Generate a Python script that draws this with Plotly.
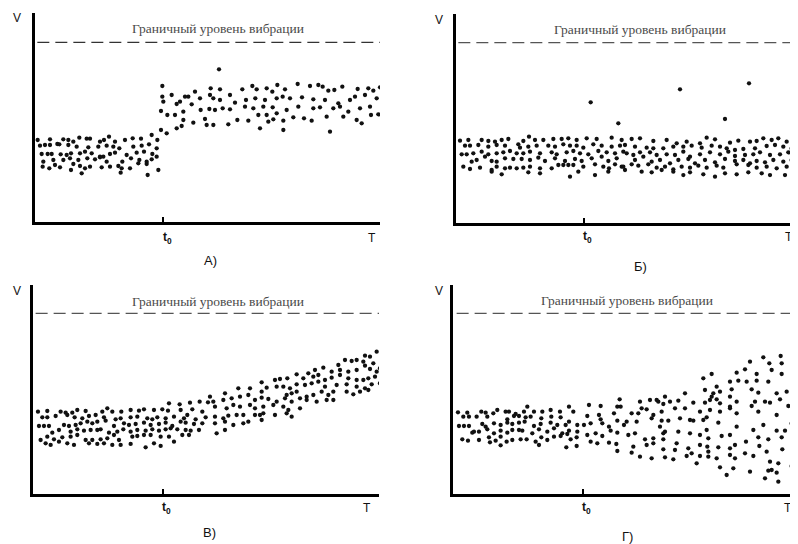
import plotly.graph_objects as go

# ---------------- data (t, V), arbitrary units ----------------
TITLE = "Граничный уровень вибрации"
PANEL_LABELS = ["А)", "Б)", "В)", "Г)"]

A_points = [
    (13,280),(50,282),(72,268),(90,282),(105,280),(120,275),(138,287),(160,284),(170,284),(200,275),(212,280),(227,290),(245,275),(275,280),(298,285),(323,284),(355,295),(372,280),
    (20,263),(35,265),(50,265),(78,267),(105,265),(130,260),(165,258),(195,260),(220,263),(240,260),(258,255),(300,260),(325,263),(347,267),(370,255),
    (25,238),(43,238),(55,238),(82,237),(100,235),(113,240),(140,240),(155,245),(175,240),(200,230),(210,230),(230,238),(245,242),(280,235),(310,242),(332,245),(357,238),(370,230),
    (30,215),(60,220),(90,220),(110,225),(135,220),(162,225),(185,222),(200,228),(220,215),(267,215),(293,225),(318,220),(340,215),(355,222),
    (28,200),(48,195),(65,205),(80,198),(113,190),(120,208),(140,202),(155,195),(170,200),(205,198),(230,200),(255,202),(265,195),(290,195),(315,210),(340,208),(375,190),
    (145,180),(262,182),(343,175),
    (557,492),
    (387,442),(415,415),(387,410),(455,410),(485,425),(532,435),(560,432),(590,415),(627,432),(657,442),(670,432),(700,435),(717,425),(732,445),(755,432),(793,448),(830,442),(855,445),(868,440),(885,428),(903,430),(927,440),(973,433),(1005,435),(1020,428),(1040,438),
    (440,395),(465,410),(500,405),(530,415),(540,405),(560,400),(605,392),(638,400),(666,405),(695,400),(730,405),(748,410),(770,405),(806,408),(840,402),(875,400),(915,390),(950,400),(965,410),(995,415),(1030,405),
    (383,367),(390,395),(402,355),(430,388),(425,355),(450,365),(475,387),(502,370),(528,373),(545,370),(568,375),(590,372),(635,380),(660,375),(690,380),(718,378),(730,360),(760,370),(795,380),(840,375),(860,378),(900,375),(920,380),(945,365),(980,375),(1010,380),(1035,357),
    (450,340),(480,332),(515,343),(520,325),(540,325),(585,327),(612,340),(645,338),(675,355),(700,355),(720,342),(705,335),(750,338),(780,348),(812,345),(835,338),(880,350),(930,350),(970,340),(985,330),(1013,355),
    (383,310),(400,300),(430,315),(445,322),(680,315),(750,310),(890,305),
]

B_points = [
    (412,393),(495,330),(680,432),(815,343),(887,450),(1022,400),
    (20,278),(45,280),(85,280),(105,277),(125,275),(145,280),(165,283),(210,277),(227,290),(245,280),(270,280),(300,283),(325,283),(345,285),(370,280),(400,285),(430,283),(475,287),(505,280),
    (35,263),(50,263),(75,265),(105,260),(130,265),(155,263),(195,267),(200,257),(225,260),(250,263),(285,263),(305,260),(330,267),(350,263),(370,263),(390,257),(420,267),(445,263),(475,260),(500,263),
    (25,237),(40,237),(60,240),(85,245),(105,237),(130,240),(150,243),(170,247),(190,240),(210,240),(230,245),(260,240),(295,243),(310,237),(340,243),(360,247),(380,240),(405,237),(435,247),(460,243),(485,240),(510,245),
    (55,215),(70,220),(95,230),(115,217),(130,215),(155,225),(180,223),(205,223),(230,220),(255,227),(275,217),(305,225),(335,217),(365,223),(385,217),(415,225),(445,230),(465,217),(490,225),
    (30,200),(50,193),(80,197),(115,190),(130,200),(155,195),(170,197),(190,195),(210,197),(230,200),(260,195),(295,195),(315,205),(330,205),(345,205),(360,205),(390,200),(425,207),(450,200),(467,195),(485,207),(505,200),
    (115,185),(145,177),(225,183),(260,180),(350,170),(375,185),(425,175),(465,185),
    (535,283),(560,285),(600,277),(640,280),(670,270),(700,275),(740,270),(760,287),(785,282),(830,272),(855,278),(890,275),(910,277),(930,285),(955,280),(975,285),(1000,275),(1020,272),
    (515,265),(545,260),(580,257),(600,255),(630,255),(660,260),(690,260),(715,263),(745,257),(775,263),(800,260),(820,255),(845,250),(870,253),(905,255),(940,262),(965,265),(990,260),(1015,255),
    (520,240),(540,235),(560,243),(590,243),(610,235),(640,237),(665,235),(690,245),(710,230),(740,237),(770,243),(800,237),(825,245),(845,232),(875,235),(900,237),(920,243),(950,235),(980,237),(1005,243),(1025,230),
    (545,220),(570,230),(595,215),(620,220),(650,210),(675,220),(705,223),(725,210),(755,220),(785,213),(815,223),(845,217),(870,220),(890,210),(910,217),(935,213),(960,220),(990,215),(1015,220),
    (510,200),(535,207),(555,203),(585,207),(610,197),(635,200),(660,192),(685,200),(710,197),(735,203),(760,197),(790,203),(810,197),(850,207),(885,205),(910,197),(940,200),(970,195),(1000,200),(1020,203),
    (515,190),(565,185),(595,183),(625,190),(660,185),(690,175),(710,183),(750,177),(785,170),(815,180),(850,177),(885,183),(925,180),(950,175),(995,175),(1020,183),
]

C_points = [
    (412,315),(444,312),(475,317),(504,320),(529,318),
    (19,290),(47,292),(87,290),(102,287),(122,287),(137,295),(162,292),(212,290),(227,300),(242,290),(269,290),(297,295),(322,293),(337,297),(367,295),(392,297),(409,293),(447,295),(482,297),(512,290),
    (32,273),(47,273),(72,277),(107,280),(129,273),(152,270),(172,277),(192,280),(217,273),(252,267),(267,270),(297,273),(317,275),(347,270),(362,267),(377,273),(402,270),(427,275),(457,270),(467,280),(492,267),(522,273),
    (22,247),(37,247),(52,247),(97,250),(112,247),(132,250),(147,255),(167,260),(182,255),(197,260),(222,263),(247,247),(277,255),(292,250),(312,253),(337,257),(357,250),(382,253),(402,257),(422,247),(447,260),(462,257),(487,253),(512,255),
    (62,227),(82,235),(117,230),(137,237),(157,233),(177,235),(197,235),(207,237),(232,227),(257,230),(275,237),(297,230),(317,235),(342,233),(362,237),(382,233),(402,237),(417,240),(437,237),(462,235),(477,233),(502,235),
    (27,205),(47,215),(67,207),(92,213),(117,215),(137,220),(162,205),(182,205),(207,207),(227,210),(247,220),(262,205),(302,215),(317,217),(337,220),(357,220),(387,215),(412,215),(452,220),(472,220),
    (42,195),(57,190),(82,200),(107,195),(127,190),(172,195),(197,193),(217,195),(242,190),(267,190),(297,193),(342,183),(367,195),(387,187),(427,200),
    (1035,470),(1050,450),(1015,455),(1000,458),(975,445),(960,442),(940,445),(920,430),(995,440),(1025,435),(1045,420),
    (850,415),(875,422),(900,410),(925,415),(950,410),(975,415),(1000,428),(1015,418),(1035,410),(830,405),(795,402),(767,390),(745,388),(730,385),(690,378),
    (845,395),(860,400),(815,390),(880,385),(900,392),(925,400),(950,390),(975,385),(995,385),(1010,390),(1030,395),(755,365),(775,360),(795,372),(820,370),(840,375),(860,380),(880,365),(915,370),(945,372),(975,365),(1000,360),(1020,372),(1045,375),
    (535,335),(580,345),(620,360),(655,360),(690,350),(705,362),(735,365),(765,340),(780,345),(795,350),(825,335),(845,340),(870,350),(890,340),(905,350),(945,350),(965,342),(985,350),(1010,355),
    (545,320),(575,325),(600,330),(625,335),(650,340),(670,325),(690,332),(710,328),(735,320),(760,330),(780,320),(805,330),(825,325),(855,320),(885,325),(905,325),
    (550,305),(585,300),(605,310),(625,305),(655,310),(670,300),(695,305),(725,310),(755,305),(770,295),(805,300),
    (550,275),(575,270),(590,278),(615,280),(635,280),(670,280),(685,280),(695,285),(730,280),(765,285),(780,275),(550,255),(580,260),(605,250),(635,255),(650,260),(690,265),
    (555,225),(580,235),
]

D_points = [
    (19,288),(35,275),(47,287),(52,275),(75,275),(89,290),(102,287),(107,275),(125,285),(137,295),(162,290),(172,290),(192,283),(202,277),(217,290),(227,305),(247,290),(272,290),(297,295),(325,290),(352,305),(365,290),(412,310),(447,307),(487,285),(497,305),(507,305),(504,327),
    (167,267),(187,277),(222,273),(237,275),(269,270),(299,275),(327,273),(407,277),(442,280),(447,267),
    (22,247),(37,247),(52,247),(67,230),(92,253),(102,245),(127,255),(147,250),(167,257),(182,253),(202,257),(219,260),(247,247),(267,253),(297,257),(317,250),(342,250),(352,260),(377,250),(397,250),(417,255),(452,255),(472,245),(497,263),(517,250),
    (62,227),(82,230),(107,237),(127,225),(147,233),(167,227),(182,235),(202,235),(212,233),(242,225),(262,237),(287,230),(307,240),(332,225),(352,233),(377,230),(407,220),(432,225),(452,217),(477,233),(497,227),
    (32,207),(49,203),(82,205),(112,213),(115,198),(132,203),(147,215),(165,200),(182,205),(207,207),(225,207),(252,200),(269,213),(287,205),(307,215),(327,217),(347,223),(357,207),(375,213),(417,200),(437,195),(472,197),(494,193),(262,190),(147,189),(344,183),(375,187),
    (497,172),
    (935,453),(987,457),(895,440),(953,435),(990,435),(880,417),(855,407),(960,415),(990,403),(755,390),(780,403),(835,380),(860,383),(885,380),(915,403),(915,383),(950,380),(1025,367),
    (760,355),(795,365),(785,345),(805,350),(840,357),(900,357),(920,347),(975,345),(1005,350),(700,345),(640,335),(615,325),(780,335),(795,327),(835,335),(855,320),(940,320),(955,317),(985,327),
    (565,320),(595,325),(620,320),(655,320),(680,323),(725,317),(760,317),(775,325),(805,315),(835,300),(900,307),(910,320),(1010,307),(570,300),
    (540,285),(560,285),(585,297),(605,280),(630,290),(635,313),(670,300),(700,300),(745,290),(775,295),(805,290),(835,305),(855,285),(920,290),(975,280),
    (525,260),(555,260),(600,270),(630,263),(650,263),(685,270),(715,265),(725,263),(755,265),(765,273),(800,257),(855,245),(905,235),(935,250),(975,233),(1000,233),(1020,255),(625,245),(640,230),
    (530,220),(550,225),(580,207),(605,210),(635,225),(635,207),(680,230),(715,225),(745,220),(765,235),(770,210),(810,217),(835,220),(883,200),(920,213),(950,207),(990,213),(1025,225),
    (545,185),(585,190),(605,195),(635,177),(670,175),(675,195),(710,180),(745,190),(767,185),(800,183),(835,180),(850,190),(923,187),(992,177),(1025,190),
    (540,167),(565,155),(600,150),(640,153),(665,147),(705,157),(720,165),(745,157),(770,170),(770,155),(795,150),(835,160),(850,150),(880,165),(905,157),(945,170),(955,140),(980,135),(1020,127),(735,135),
    (805,123),(825,100),(845,120),(895,110),(950,113),(960,115),(975,107),(940,90),(980,80),
]

# per panel: t range, V range, vibration limit, t0, T, dashed line start
T_RANGES = [(5, 1040), (8, 1034), (5, 1042), (5, 1039)]
V_RANGES = [(35, 660), (32, 658), (42, 670), (43, 670)]
LIMITS = [573, 572, 585, 585]
T0 = [390, 391, 393, 393]
T_END = [1017, 1007, 1007, 1008]
DASH_START = [12, 15, 12, 15]

# ---------------- layout geometry (window pixels) ----------------
OFF = 8                      # page body margin around the plot
W, H = 798 - OFF, 544 - OFF  # figure size so that it fills the window
X_DOM = [(35, 380), (456, 798), (33.3, 379), (453.3, 798)]
Y_DOM = [(13.3, 221.7), (14, 222.7), (285, 494.3), (285, 494)]
TITLE_POS = [(218, 28), (640, 29), (218, 301.5), (627, 300)]
V_POS = [(17, 18), (439, 20), (16.7, 291), (439, 291)]
LAB_Y = [238, 237, 508, 508]
PANEL_POS = [(211, 261), (640, 267), (209, 532), (627, 536)]
DASH_COL = ["#333333", "#555555", "#555555", "#555555"]


def px_x(px):
    return (px - OFF) / W


def px_y(py):
    return 1 - (py - OFF) / H


fig = go.Figure()
annotations = []
all_points = [A_points, B_points, C_points, D_points]

for i in range(4):
    k = "" if i == 0 else str(i + 1)
    xa, ya = "x" + k, "y" + k
    pts = all_points[i]
    fig.add_trace(go.Scatter(
        x=[p[0] for p in pts], y=[p[1] for p in pts], mode="markers",
        marker=dict(size=4.3, color="#111111"), xaxis=xa, yaxis=ya,
        showlegend=False, hoverinfo="skip"))
    fig.add_trace(go.Scatter(
        x=[DASH_START[i], T_RANGES[i][1]], y=[LIMITS[i], LIMITS[i]], mode="lines",
        line=dict(color=DASH_COL[i], width=1.3, dash="12px,6px"),
        xaxis=xa, yaxis=ya, showlegend=False, hoverinfo="skip"))
    x0, x1 = X_DOM[i]
    y0, y1 = Y_DOM[i]
    fig.update_layout(**{
        "xaxis" + k: dict(domain=[max(0, px_x(x0)), min(1, px_x(x1))], range=list(T_RANGES[i]),
                          showline=True, linecolor="black", linewidth=3,
                          showgrid=False, zeroline=False, showticklabels=False,
                          ticks="inside", tickvals=[T0[i]], ticklen=5, tickwidth=2,
                          tickcolor="black", anchor=ya),
        "yaxis" + k: dict(domain=[px_y(y1), px_y(y0)], range=list(V_RANGES[i]),
                          showline=True, linecolor="black", linewidth=3,
                          showgrid=False, zeroline=False, showticklabels=False,
                          ticks="", anchor=xa),
    })
    tx, ty = TITLE_POS[i]
    annotations.append(dict(text=TITLE, x=px_x(tx), y=px_y(ty), xref="paper", yref="paper",
                            showarrow=False, xanchor="center", yanchor="middle",
                            font=dict(family="Liberation Serif", size=13.5, color="#4a4a4a")))
    vx, vy = V_POS[i]
    annotations.append(dict(text="V", x=px_x(vx), y=px_y(vy), xref="paper", yref="paper",
                            showarrow=False, xanchor="center", yanchor="middle",
                            font=dict(family="Liberation Sans", size=12, color="#111111")))
    annotations.append(dict(text="<b>t<sub>0</sub></b>", x=T0[i], xref=xa, y=px_y(LAB_Y[i]),
                            yref="paper", showarrow=False, xanchor="center", yanchor="middle",
                            xshift=4, font=dict(family="Liberation Sans", size=12, color="#111111")))
    annotations.append(dict(text="T", x=T_END[i], xref=xa, y=px_y(LAB_Y[i]),
                            yref="paper", showarrow=False, xanchor="center", yanchor="middle",
                            font=dict(family="Liberation Sans", size=12, color="#111111")))
    px, py = PANEL_POS[i]
    annotations.append(dict(text=PANEL_LABELS[i], x=px_x(px), y=px_y(py), xref="paper",
                            yref="paper", showarrow=False, xanchor="center", yanchor="middle",
                            font=dict(family="Liberation Sans", size=13, color="#111111")))

fig.update_layout(width=W, height=H, margin=dict(l=0, r=0, t=0, b=0),
                  paper_bgcolor="white", plot_bgcolor="white",
                  annotations=annotations, showlegend=False)

fig.write_html("out.html")
